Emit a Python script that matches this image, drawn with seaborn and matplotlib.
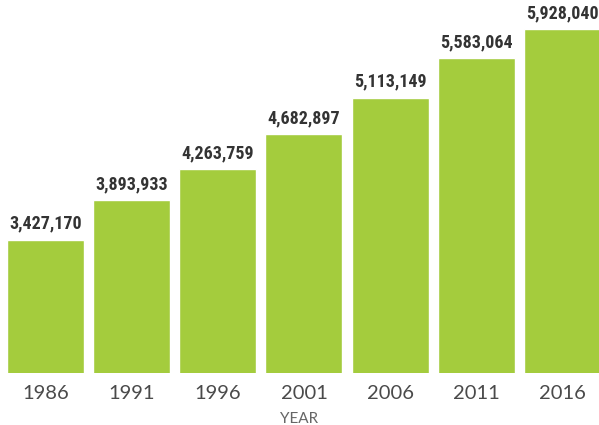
import matplotlib
matplotlib.use("Agg")
import matplotlib.pyplot as plt
from matplotlib import font_manager
import seaborn as sns
import pandas as pd

years = ["1986", "1991", "1996", "2001", "2006", "2011", "2016"]
population = [3427170, 3893933, 4263759, 4682897, 5113149, 5583064, 5928040]

df = pd.DataFrame({"year": years, "population": population})

sns.set_style("white")

# choose a narrow/condensed bold family if one is installed
installed = {f.name: f for f in font_manager.fontManager.ttflist}
narrow = None
for cand in ["Liberation Sans Narrow", "DejaVu Sans Condensed", "Roboto Condensed",
             "Open Sans Condensed", "Noto Sans Condensed"]:
    if cand in installed:
        narrow = cand
        break
for f in font_manager.fontManager.ttflist:
    if f.stretch not in ("normal", 500) and narrow is None:
        narrow = f.name
label_family = [narrow, "DejaVu Sans"] if narrow else ["DejaVu Sans"]

fig = plt.figure(figsize=(5.99, 4.25), dpi=100)
ax = fig.add_axes([0, 0.123, 1, 0.877])

sns.barplot(data=df, x="year", y="population", color="#a4cc3d",
            saturation=1, width=0.894, ax=ax)

ax.set_xlim(-0.528, 6.424)
ax.set_ylim(1850000, 6272000)

labels = [f"{v:,}" for v in population]
ax.bar_label(ax.containers[0], labels=labels, padding=5,
             fontsize=13 if narrow else 11, fontweight="bold",
             family=label_family, color="#333333")

for s in ax.spines.values():
    s.set_visible(False)
ax.set_yticks([])
ax.set_ylabel("")
ax.tick_params(axis="x", length=0, pad=9, labelsize=14.5, colors="#4a4a4a")
for t in ax.get_xticklabels():
    t.set_fontfamily(["Lato", "DejaVu Sans"])
    t.set_fontweight("normal")
ax.set_xlabel("YEAR", fontsize=11, color="#666666", labelpad=7,
              family=["Lato", "DejaVu Sans"])

fig.savefig("out.png", dpi=100)
